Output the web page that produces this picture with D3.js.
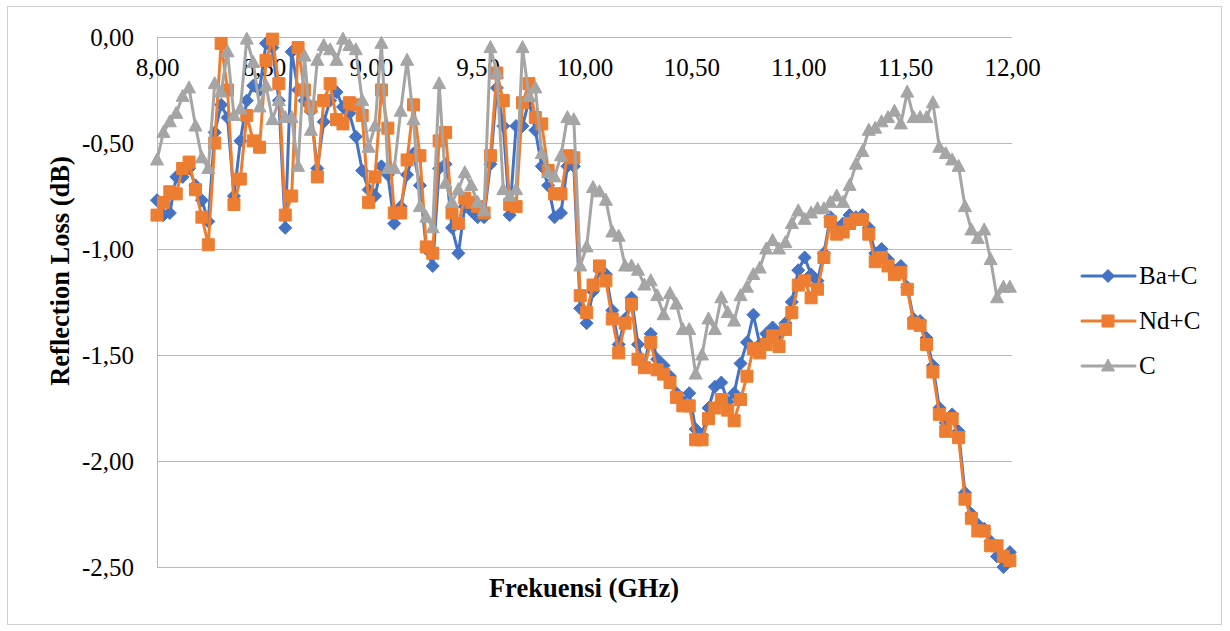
<!DOCTYPE html>
<html>
<head>
<meta charset="utf-8">
<script src="https://cdn.jsdelivr.net/npm/d3@7"></script>
<style>
  html, body { margin: 0; padding: 0; background: #ffffff; }
  svg { display: block; }
  text { font-family: "Liberation Serif", "Times New Roman", serif; fill: #000; }
</style>
</head>
<body>
<svg id="chart" width="1230" height="631"></svg>
<script>
// ---- data ----
const freq = [8.00,8.03,8.06,8.09,8.12,8.15,8.18,8.21,8.24,8.27,8.30,8.33,8.36,8.39,8.42,8.45,8.48,8.51,8.54,8.57,
  8.60,8.63,8.66,8.69,8.72,8.75,8.78,8.81,8.84,8.87,8.90,8.93,8.96,8.99,9.02,9.05,9.08,9.11,9.14,9.17,
  9.20,9.23,9.26,9.29,9.32,9.35,9.38,9.41,9.44,9.47,9.50,9.53,9.56,9.59,9.62,9.65,9.68,9.71,9.74,9.77,
  9.80,9.83,9.86,9.89,9.92,9.95,9.98,10.01,10.04,10.07,10.10,10.13,10.16,10.19,10.22,10.25,10.28,10.31,10.34,10.37,
  10.40,10.43,10.46,10.49,10.52,10.55,10.58,10.61,10.64,10.67,10.70,10.73,10.76,10.79,10.82,10.85,10.88,10.91,10.94,10.97,
  11.00,11.03,11.06,11.09,11.12,11.15,11.18,11.21,11.24,11.27,11.30,11.33,11.36,11.39,11.42,11.45,11.48,11.51,11.54,11.57,
  11.60,11.63,11.66,11.69,11.72,11.75,11.78,11.81,11.84,11.87,11.90,11.93,11.96,11.99];

const baC = [-0.77,-0.84,-0.83,-0.66,-0.66,-0.62,-0.70,-0.77,-0.87,-0.45,-0.32,-0.38,-0.75,-0.49,-0.30,-0.23,-0.25,-0.03,-0.05,-0.30,
  -0.90,-0.07,-0.25,-0.30,-0.35,-0.62,-0.40,-0.30,-0.26,-0.33,-0.36,-0.47,-0.63,-0.72,-0.75,-0.61,-0.65,-0.88,-0.80,-0.65,
  -0.55,-0.70,-1.00,-1.08,-0.62,-0.60,-0.90,-1.02,-0.80,-0.82,-0.85,-0.85,-0.60,-0.24,-0.42,-0.84,-0.42,-0.42,-0.30,-0.44,
  -0.61,-0.70,-0.85,-0.83,-0.61,-0.61,-1.28,-1.35,-1.20,-1.10,-1.12,-1.29,-1.45,-1.33,-1.23,-1.45,-1.55,-1.40,-1.52,-1.55,
  -1.60,-1.68,-1.72,-1.68,-1.85,-1.88,-1.75,-1.65,-1.63,-1.72,-1.68,-1.54,-1.44,-1.31,-1.45,-1.40,-1.37,-1.40,-1.35,-1.25,
  -1.10,-1.04,-1.12,-1.15,-1.02,-0.85,-0.90,-0.88,-0.84,-0.85,-0.84,-0.90,-1.02,-1.00,-1.05,-1.10,-1.08,-1.18,-1.33,-1.34,
  -1.42,-1.55,-1.75,-1.82,-1.78,-1.86,-2.15,-2.25,-2.30,-2.32,-2.38,-2.45,-2.50,-2.43];

const ndC = [-0.84,-0.78,-0.73,-0.74,-0.62,-0.59,-0.72,-0.85,-0.98,-0.50,-0.03,-0.25,-0.79,-0.67,-0.37,-0.49,-0.52,-0.11,-0.01,-0.22,
  -0.84,-0.75,-0.05,-0.25,-0.33,-0.66,-0.30,-0.22,-0.39,-0.41,-0.31,-0.32,-0.37,-0.78,-0.66,-0.25,-0.43,-0.83,-0.83,-0.58,
  -0.32,-0.56,-0.99,-1.02,-0.49,-0.45,-0.83,-0.88,-0.76,-0.78,-0.80,-0.83,-0.56,-0.17,-0.30,-0.79,-0.80,-0.31,-0.22,-0.38,
  -0.41,-0.63,-0.74,-0.74,-0.56,-0.57,-1.22,-1.30,-1.17,-1.08,-1.15,-1.33,-1.49,-1.35,-1.26,-1.52,-1.56,-1.44,-1.57,-1.59,
  -1.63,-1.70,-1.74,-1.74,-1.90,-1.90,-1.80,-1.75,-1.71,-1.76,-1.81,-1.71,-1.60,-1.47,-1.49,-1.45,-1.41,-1.46,-1.38,-1.30,
  -1.17,-1.15,-1.23,-1.19,-1.04,-0.87,-0.93,-0.92,-0.88,-0.86,-0.86,-0.93,-1.06,-1.04,-1.08,-1.12,-1.11,-1.19,-1.35,-1.36,
  -1.45,-1.58,-1.78,-1.86,-1.80,-1.89,-2.18,-2.27,-2.33,-2.33,-2.40,-2.40,-2.45,-2.47];

const cOnly = [-0.58,-0.45,-0.40,-0.36,-0.28,-0.24,-0.42,-0.57,-0.62,-0.22,-0.26,-0.07,-0.37,-0.34,-0.01,-0.12,-0.33,-0.23,-0.39,-0.30,
  -0.38,-0.38,-0.61,-0.09,-0.44,-0.11,-0.04,-0.06,-0.11,-0.01,-0.04,-0.06,-0.30,-0.52,-0.42,-0.03,-0.62,-0.62,-0.35,-0.11,
  -0.39,-0.80,-0.85,-0.90,-0.22,-0.69,-0.78,-0.72,-0.64,-0.70,-0.78,-0.82,-0.05,-0.17,-0.72,-0.75,-0.72,-0.05,-0.28,-0.24,
  -0.55,-0.64,-0.66,-0.56,-0.38,-0.39,-1.08,-0.99,-0.71,-0.73,-0.77,-0.92,-0.94,-1.08,-1.08,-1.10,-1.17,-1.15,-1.22,-1.31,
  -1.21,-1.26,-1.38,-1.38,-1.59,-1.50,-1.33,-1.38,-1.23,-1.30,-1.34,-1.22,-1.18,-1.12,-1.09,-1.00,-0.96,-1.00,-0.97,-0.88,
  -0.82,-0.86,-0.83,-0.81,-0.81,-0.78,-0.75,-0.78,-0.70,-0.60,-0.54,-0.44,-0.43,-0.40,-0.38,-0.35,-0.41,-0.26,-0.38,-0.38,
  -0.38,-0.31,-0.52,-0.55,-0.58,-0.61,-0.80,-0.91,-0.95,-0.91,-1.05,-1.23,-1.18,-1.18];

const seriesNames = ["Ba+C", "Nd+C", "C"];
const xTicks = [8.0, 8.5, 9.0, 9.5, 10.0, 10.5, 11.0, 11.5, 12.0];
const yTicks = [0, -0.5, -1.0, -1.5, -2.0, -2.5];
const xTitle = "Frekuensi (GHz)";
const yTitle = "Reflection Loss (dB)";

// ---- chart ----
const svg = d3.select("#chart");
const plot = { left: 157, right: 1012, top: 37, bottom: 567 };
const x = d3.scaleLinear().domain([8, 12]).range([plot.left, plot.right]);
const y = d3.scaleLinear().domain([0, -2.5]).range([plot.top, plot.bottom]);
const fmt = v => d3.format(".2f")(v).replace(".", ",").replace("−", "-");

const gridColor = "#b8b8b8";

// outer chart border
svg.append("rect").attr("x", 7.5).attr("y", 6.5).attr("width", 1214).attr("height", 618)
  .attr("fill", "none").attr("stroke", "#d0d0d0").attr("stroke-width", 1);

// horizontal gridlines
svg.append("g").selectAll("line").data(yTicks.filter(v => v !== 0)).join("line")
  .attr("x1", plot.left).attr("x2", plot.right)
  .attr("y1", d => Math.round(y(d)) + 0.5).attr("y2", d => Math.round(y(d)) + 0.5)
  .attr("stroke", gridColor).attr("stroke-width", 1);

// axis lines (x axis crosses at 0 -> top)
svg.append("line").attr("x1", plot.left).attr("x2", plot.right)
  .attr("y1", y(0) + 0.5).attr("y2", y(0) + 0.5).attr("stroke", gridColor);
svg.append("line").attr("x1", plot.left + 0.5).attr("x2", plot.left + 0.5)
  .attr("y1", plot.top).attr("y2", plot.bottom).attr("stroke", gridColor);

// y axis labels
const yAxis = svg.append("g").attr("transform", `translate(${plot.left},0)`)
  .call(d3.axisLeft(y).tickValues(yTicks).tickFormat(fmt).tickSize(0).tickPadding(23));
yAxis.select(".domain").remove();
yAxis.selectAll("text").style("font-size", "25px").style("font-family", '"Liberation Serif", serif')
  .attr("dy", "0.32em");

// x axis labels (below axis line at y=0)
const xAxis = svg.append("g").attr("transform", `translate(0,${y(0)})`)
  .call(d3.axisBottom(x).tickValues(xTicks).tickFormat(fmt).tickSize(0));
xAxis.select(".domain").remove();
xAxis.selectAll("text").style("font-size", "25px").style("font-family", '"Liberation Serif", serif')
  .attr("y", 39).attr("dy", null);

// axis titles
svg.append("text").attr("x", 584).attr("y", 597).attr("text-anchor", "middle")
  .style("font-size", "26.5px").style("font-weight", "bold").text(xTitle);
svg.append("text").attr("transform", "translate(69,271) rotate(-90)").attr("text-anchor", "middle")
  .style("font-size", "26.5px").style("font-weight", "bold").text(yTitle);

// series
const colors = ["#4472c4", "#ed7d31", "#a5a5a5"];
const markers = [
  "M0,-6.5L6.5,0L0,6.5L-6.5,0Z",
  "M-6,-6L6,-6L6,6L-6,6Z",
  "M0,-7L6.5,5L-6.5,5Z"
];
const values = [baC, ndC, cOnly];

const line = d3.line().x(d => x(d[0])).y(d => y(d[1]));

values.forEach((vals, k) => {
  const pts = freq.map((f, i) => [f, vals[i]]);
  const g = svg.append("g");
  g.append("path").datum(pts).attr("d", line)
    .attr("fill", "none").attr("stroke", colors[k]).attr("stroke-width", 3)
    .attr("stroke-linejoin", "round").attr("stroke-linecap", "round");
  g.selectAll("path.m").data(pts).join("path").attr("class", "m")
    .attr("d", markers[k])
    .attr("transform", d => `translate(${x(d[0])},${y(d[1])})`)
    .attr("fill", colors[k]).attr("stroke", colors[k]).attr("stroke-width", 1);
});

// legend
const legY = [276, 321, 366];
seriesNames.forEach((name, k) => {
  const g = svg.append("g").attr("transform", `translate(0,${legY[k]})`);
  g.append("line").attr("x1", 1082).attr("x2", 1135).attr("y1", 0).attr("y2", 0)
    .attr("stroke", colors[k]).attr("stroke-width", 3).attr("stroke-linecap", "round");
  g.append("path").attr("d", markers[k]).attr("transform", "translate(1108,0)")
    .attr("fill", colors[k]).attr("stroke", colors[k]);
  g.append("text").attr("x", 1139).attr("y", 8).style("font-size", "25px").text(name);
});
</script>
</body>
</html>
